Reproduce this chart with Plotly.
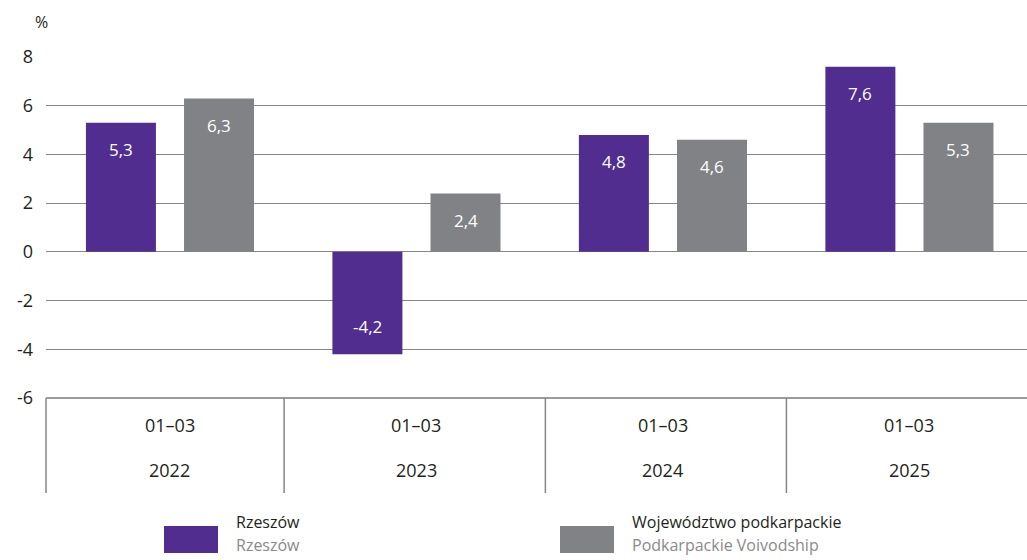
import plotly.graph_objects as go

periods = ["01–03", "01–03", "01–03", "01–03"]
years = ["2022", "2023", "2024", "2025"]
rzeszow = [5.3, -4.2, 4.8, 7.6]
podkarpackie = [6.3, 2.4, 4.6, 5.3]
series_pl = ["Rzeszów", "Województwo podkarpackie"]
series_en = ["Rzeszów", "Podkarpackie Voivodship"]
y_ticks = [-6, -4, -2, 0, 2, 4, 6, 8]

PURPLE = "#512d8f"
GREY = "#808285"
FONT = "Open Sans"
DARK = "#231f20"

xs = list(range(len(years)))
W = 0.284
OFF = [-0.341, 0.057]

def fmt(v):
    return f"{v:.1f}".replace(".", ",")

fig = go.Figure()
for vals, col, off in [(rzeszow, PURPLE, OFF[0]), (podkarpackie, GREY, OFF[1])]:
    fig.add_trace(go.Bar(x=xs, y=vals, width=W, offset=off, marker_color=col,
                         marker_line_width=0, showlegend=False, hoverinfo="skip"))
    for x, v in zip(xs, vals):
        fig.add_annotation(x=x + off + W / 2, y=v, text=fmt(v), showarrow=False,
                           yshift=-27 if v > 0 else 28, yanchor="middle",
                           font=dict(family=FONT, size=17, color="white"))

# category table labels
for x, p, yr in zip(xs, periods, years):
    fig.add_annotation(x=x, y=0, yref="paper", text=p, showarrow=False, yanchor="middle",
                       yshift=-27, font=dict(family=FONT, size=18, color=DARK))
    fig.add_annotation(x=x, y=0, yref="paper", text=yr, showarrow=False, yanchor="middle",
                       yshift=-72, font=dict(family=FONT, size=18, color=DARK))

LINE = "#868686"
ybot = -(493 - 398) / 341
fig.add_shape(type="line", xref="paper", yref="paper", x0=0, x1=1, y0=0, y1=0,
              line=dict(color="#7a7a7a", width=1.5))
fig.add_shape(type="line", xref="paper", yref="paper", x0=0, x1=0, y0=0, y1=ybot,
              line=dict(color=LINE, width=1.5))
for xd in [0.463, 1.523, 2.501]:
    fig.add_shape(type="line", xref="x", yref="paper", x0=xd, x1=xd, y0=0, y1=ybot,
                  line=dict(color=LINE, width=1.5))

# percent label
fig.add_annotation(x=0, y=1, xref="paper", yref="paper", text="%", showarrow=False,
                   xanchor="right", xshift=4, yanchor="middle", yshift=35,
                   font=dict(family=FONT, size=16, color=DARK))

# custom legend
leg = [(164, PURPLE), (560, GREY)]
for (px, col), pl, en in zip(leg, series_pl, series_en):
    x0 = (px - 46) / 981
    x1 = (px + 54 - 46) / 981
    fig.add_shape(type="rect", xref="paper", yref="paper", x0=x0, x1=x1,
                  y0=-(526 - 398) / 341, y1=-(553 - 398) / 341,
                  fillcolor=col, line_width=0)
    tx = (px + 70 - 46) / 981
    fig.add_annotation(x=tx, y=-(522 - 398) / 341, xref="paper", yref="paper", text=pl,
                       showarrow=False, xanchor="left", yanchor="middle",
                       font=dict(family=FONT, size=16, color=DARK))
    fig.add_annotation(x=tx, y=-(545 - 398) / 341, xref="paper", yref="paper", text=en,
                       showarrow=False, xanchor="left", yanchor="middle",
                       font=dict(family=FONT, size=16, color="#8a8a8a"))

fig.update_layout(
    width=1027, height=560,
    margin=dict(l=46, r=0, t=57, b=162),
    paper_bgcolor="white", plot_bgcolor="white",
    barmode="overlay",
    xaxis=dict(range=[-0.503, 3.477], showticklabels=False, showgrid=False,
               zeroline=False, ticks=""),
    yaxis=dict(range=[-6, 8], tickvals=y_ticks, ticktext=[str(t) for t in y_ticks],
               showgrid=True, gridcolor=LINE, gridwidth=1.3, zeroline=False,
               ticks="", ticklabelstandoff=12,
               tickfont=dict(family=FONT, size=18, color=DARK)),
)

fig.write_html("out.html", config={"displayModeBar": False},
               post_script="document.body.style.margin='0';document.body.style.overflow='hidden';")
